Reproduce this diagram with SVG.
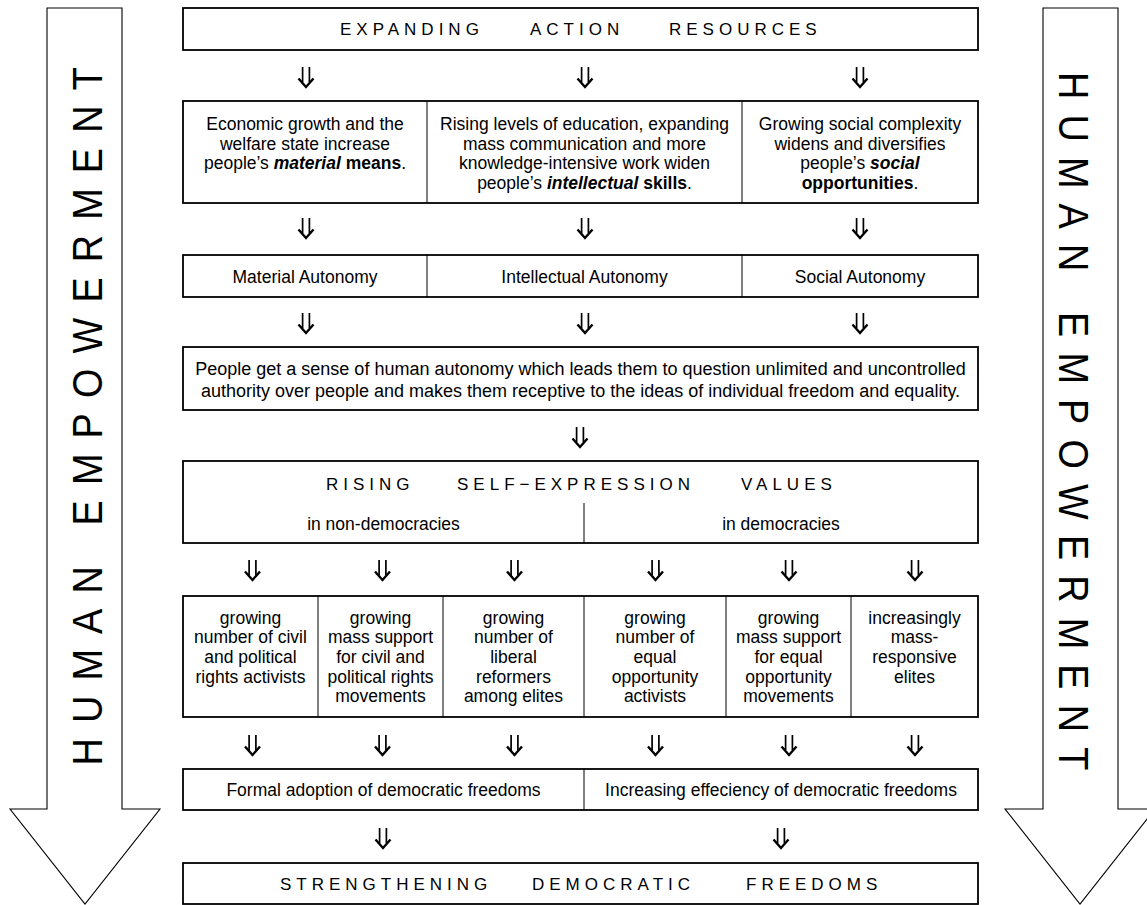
<svg xmlns="http://www.w3.org/2000/svg" width="1147" height="905" viewBox="0 0 1147 905">
<style>
.bx{fill:#fff;stroke:#000;stroke-width:1.8}
.dv{stroke:#000;stroke-width:1;fill:none}
.side{fill:#fff;stroke:#000;stroke-width:1.1}
text{font-family:"Liberation Sans",Arial,Helvetica,sans-serif;fill:#000}
.t{font-size:17.5px;text-anchor:middle}
.t4{font-size:18px;text-anchor:middle}
.sp{font-size:17px;letter-spacing:5px}
.big{font-size:43px;letter-spacing:17.2px}
.bi{font-weight:bold;font-style:italic}
.b{font-weight:bold}
</style>
<defs>
<symbol id="dbl" viewBox="0 0 18 21" overflow="visible">
<path d="M5.6 0V15M12.4 0V15" stroke="#000" stroke-width="1.7" fill="none"/>
<path d="M1.5 11.5L9 20L16.5 11.5" stroke="#000" stroke-width="2.4" fill="none" stroke-linejoin="miter"/>
</symbol>
</defs>

<g id="left-arrow">
<polygon class="side" points="47,8 122,8 122,809 160,809 85,904 10,809 47,809"/>
<text class="big" transform="translate(102,765.5) rotate(-90) scale(0.88,1)">HUMAN EMPOWERMENT</text>
</g>
<g id="right-arrow">
<polygon class="side" points="1043,8 1118,8 1118,809 1155,809 1080,904 1005,809 1043,809"/>
<text class="big" transform="translate(1059,72) rotate(90) scale(0.88,1)">HUMAN EMPOWERMENT</text>
</g>

<g id="expanding">
<rect class="bx" x="183" y="8" width="795" height="42"/>
<text class="sp" x="340" y="35">EXPANDING</text>
<text class="sp" x="530" y="35">ACTION</text>
<text class="sp" x="669" y="35">RESOURCES</text>
</g>

<g id="resources">
<rect class="bx" x="183" y="101" width="795" height="102"/>
<line class="dv" x1="427" y1="101" x2="427" y2="203"/>
<line class="dv" x1="742" y1="101" x2="742" y2="203"/>
<text class="t"><tspan x="305" y="130">Economic growth and the</tspan><tspan x="305" y="149.5">welfare state increase</tspan><tspan x="305" y="169">people’s <tspan class="bi">material</tspan> <tspan class="b">means</tspan>.</tspan></text>
<text class="t"><tspan x="584.5" y="130">Rising levels of education, expanding</tspan><tspan x="584.5" y="149.5">mass communication and more</tspan><tspan x="584.5" y="169">knowledge-intensive work widen</tspan><tspan x="584.5" y="188.7">people’s <tspan class="bi">intellectual</tspan> <tspan class="b">skills</tspan>.</tspan></text>
<text class="t"><tspan x="860" y="130">Growing social complexity</tspan><tspan x="860" y="149.5">widens and diversifies</tspan><tspan x="860" y="169">people’s <tspan class="bi">social</tspan></tspan><tspan x="860" y="188.7"><tspan class="b">opportunities</tspan>.</tspan></text>
</g>

<g id="autonomy">
<rect class="bx" x="183" y="255" width="795" height="42"/>
<line class="dv" x1="427" y1="255" x2="427" y2="297"/>
<line class="dv" x1="742" y1="255" x2="742" y2="297"/>
<text class="t" x="305" y="282.5">Material Autonomy</text>
<text class="t" x="584.5" y="282.5">Intellectual Autonomy</text>
<text class="t" x="860" y="282.5">Social Autonomy</text>
</g>

<g id="sense">
<rect class="bx" x="183" y="347" width="795" height="63"/>
<text class="t4"><tspan x="580.5" y="375">People get a sense of human autonomy which leads them to question unlimited and uncontrolled</tspan><tspan x="580.5" y="397">authority over people and makes them receptive to the ideas of individual freedom and equality.</tspan></text>
</g>

<g id="values">
<rect class="bx" x="183" y="461" width="795" height="82"/>
<line class="dv" x1="584" y1="503" x2="584" y2="543"/>
<text class="sp" x="326" y="490">RISING</text>
<text class="sp" x="457" y="490">SELF−EXPRESSION</text>
<text class="sp" x="741" y="490">VALUES</text>
<text class="t" x="383.5" y="530">in non-democracies</text>
<text class="t" x="781" y="530">in democracies</text>
</g>

<g id="actors">
<rect class="bx" x="183" y="596" width="795" height="121"/>
<line class="dv" x1="318" y1="596" x2="318" y2="717"/>
<line class="dv" x1="443" y1="596" x2="443" y2="717"/>
<line class="dv" x1="584" y1="596" x2="584" y2="717"/>
<line class="dv" x1="726" y1="596" x2="726" y2="717"/>
<line class="dv" x1="851" y1="596" x2="851" y2="717"/>
<text class="t"><tspan x="250.5" y="623.5">growing</tspan><tspan x="250.5" y="643.2">number of civil</tspan><tspan x="250.5" y="663">and political</tspan><tspan x="250.5" y="682.7">rights activists</tspan></text>
<text class="t"><tspan x="380.5" y="623.5">growing</tspan><tspan x="380.5" y="643.2">mass support</tspan><tspan x="380.5" y="663">for civil and</tspan><tspan x="380.5" y="682.7">political rights</tspan><tspan x="380.5" y="702.4">movements</tspan></text>
<text class="t"><tspan x="513.5" y="623.5">growing</tspan><tspan x="513.5" y="643.2">number of</tspan><tspan x="513.5" y="663">liberal</tspan><tspan x="513.5" y="682.7">reformers</tspan><tspan x="513.5" y="702.4">among elites</tspan></text>
<text class="t"><tspan x="655" y="623.5">growing</tspan><tspan x="655" y="643.2">number of</tspan><tspan x="655" y="663">equal</tspan><tspan x="655" y="682.7">opportunity</tspan><tspan x="655" y="702.4">activists</tspan></text>
<text class="t"><tspan x="788.5" y="623.5">growing</tspan><tspan x="788.5" y="643.2">mass support</tspan><tspan x="788.5" y="663">for equal</tspan><tspan x="788.5" y="682.7">opportunity</tspan><tspan x="788.5" y="702.4">movements</tspan></text>
<text class="t"><tspan x="914.5" y="623.5">increasingly</tspan><tspan x="914.5" y="643.2">mass-</tspan><tspan x="914.5" y="663">responsive</tspan><tspan x="914.5" y="682.7">elites</tspan></text>
</g>

<g id="freedoms">
<rect class="bx" x="183" y="769" width="795" height="41"/>
<line class="dv" x1="584" y1="769" x2="584" y2="810"/>
<text class="t" x="383.5" y="796">Formal adoption of democratic freedoms</text>
<text class="t" x="781" y="796">Increasing effeciency of democratic freedoms</text>
</g>

<g id="strengthening">
<rect class="bx" x="183" y="863" width="795" height="41"/>
<text class="sp" x="280" y="890">STRENGTHENING</text>
<text class="sp" x="532" y="890">DEMOCRATIC</text>
<text class="sp" x="746" y="890">FREEDOMS</text>
</g>

<g id="connectors">
<use href="#dbl" x="297" y="67" width="18" height="21"/>
<use href="#dbl" x="576" y="67" width="18" height="21"/>
<use href="#dbl" x="851" y="67" width="18" height="21"/>
<use href="#dbl" x="297" y="218" width="18" height="21"/>
<use href="#dbl" x="576" y="218" width="18" height="21"/>
<use href="#dbl" x="851" y="218" width="18" height="21"/>
<use href="#dbl" x="297" y="313" width="18" height="21"/>
<use href="#dbl" x="576" y="313" width="18" height="21"/>
<use href="#dbl" x="851" y="313" width="18" height="21"/>
<use href="#dbl" x="571" y="427" width="18" height="21"/>
<use href="#dbl" x="243.5" y="560" width="18" height="21"/>
<use href="#dbl" x="373.5" y="560" width="18" height="21"/>
<use href="#dbl" x="505.5" y="560" width="18" height="21"/>
<use href="#dbl" x="646.5" y="560" width="18" height="21"/>
<use href="#dbl" x="780" y="560" width="18" height="21"/>
<use href="#dbl" x="906" y="560" width="18" height="21"/>
<use href="#dbl" x="243.5" y="735" width="18" height="21"/>
<use href="#dbl" x="373.5" y="735" width="18" height="21"/>
<use href="#dbl" x="505.5" y="735" width="18" height="21"/>
<use href="#dbl" x="646.5" y="735" width="18" height="21"/>
<use href="#dbl" x="780" y="735" width="18" height="21"/>
<use href="#dbl" x="906" y="735" width="18" height="21"/>
<use href="#dbl" x="374" y="828" width="18" height="21"/>
<use href="#dbl" x="772" y="828" width="18" height="21"/>
</g>
</svg>
